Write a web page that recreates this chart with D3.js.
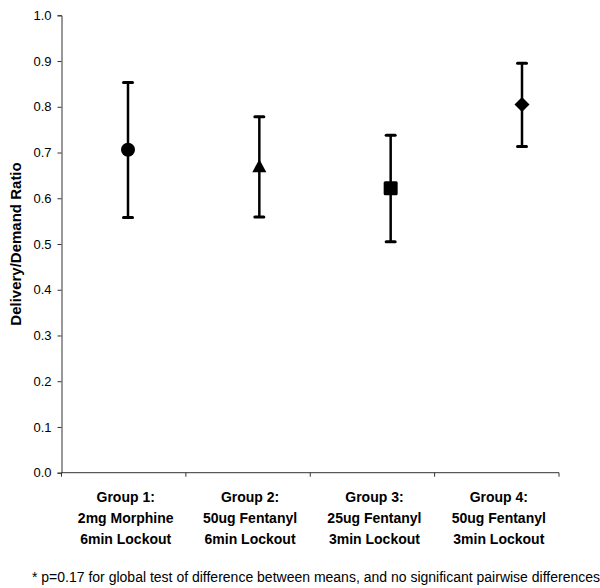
<!DOCTYPE html>
<html><head><meta charset="utf-8">
<script src="https://cdn.jsdelivr.net/npm/d3@7"></script>
<style>body{margin:0;background:#fff}svg{display:block}</style>
</head><body>
<script>
const categories = ["Group 1", "Group 2", "Group 3", "Group 4"];
const labelLines = [
  ["Group 1:", "2mg Morphine", "6min Lockout"],
  ["Group 2:", "50ug Fentanyl", "6min Lockout"],
  ["Group 3:", "25ug Fentanyl", "3min Lockout"],
  ["Group 4:", "50ug Fentanyl", "3min Lockout"]
];
const means = [0.706, 0.668, 0.622, 0.805];
const lower = [0.558, 0.559, 0.505, 0.713];
const upper = [0.853, 0.778, 0.738, 0.895];
const markers = ["circle", "triangle", "square", "diamond"];
const yTicks = [0.0, 0.1, 0.2, 0.3, 0.4, 0.5, 0.6, 0.7, 0.8, 0.9, 1.0];
const footnote = "* p=0.17 for global test of difference between means, and no significant pairwise differences";

const W = 600, H = 588;
const svg = d3.select("body").append("svg").attr("width", W).attr("height", H);
const font = "Liberation Sans, Arial, sans-serif";

const y = d3.scaleLinear().domain([0, 1]).range([472.7, 15.3]);
const xBand = d3.scaleBand().domain(categories).range([61.5, 559]);
const xPt = d3.scalePoint().domain(categories).range([128, 522]);

// Y axis
const yAxis = d3.axisLeft(y).tickValues(yTicks).tickFormat(d3.format(".1f")).tickSize(4).tickPadding(6);
const gy = svg.append("g").attr("transform", "translate(61.5,0)").call(yAxis);
gy.select(".domain").attr("stroke", "#333").attr("stroke-width", 1);
gy.selectAll(".tick line").attr("stroke", "#333");
gy.selectAll(".tick text").attr("font-family", font).attr("font-size", 13).attr("fill", "#000");

// X axis
svg.append("line").attr("x1", xBand.range()[0]).attr("x2", xBand.range()[1])
  .attr("y1", y(0)).attr("y2", y(0)).attr("stroke", "#333").attr("stroke-width", 1);
const boundaries = categories.map(c => xBand(c)).concat([xBand.range()[1]]);
svg.selectAll(".xt").data(boundaries).join("line")
  .attr("x1", d => d).attr("x2", d => d)
  .attr("y1", y(0)).attr("y2", y(0) + 4).attr("stroke", "#333");

// Category labels
const lab = svg.selectAll(".cat").data(categories).join("text")
  .attr("font-family", font).attr("font-size", 14).attr("font-weight", "bold")
  .attr("text-anchor", "middle").attr("fill", "#000");
lab.each(function(c, i) {
  const t = d3.select(this);
  labelLines[i].forEach((s, j) => {
    t.append("tspan").attr("x", xBand(c) + xBand.bandwidth() / 2 + 2)
      .attr("y", 502 + j * 21).text(s);
  });
});

// Y label
svg.append("text")
  .attr("transform", `translate(21,${(y(0) + y(1)) / 2}) rotate(-90)`)
  .attr("text-anchor", "middle")
  .attr("font-family", font).attr("font-size", 15).attr("font-weight", "bold")
  .text("Delivery/Demand Ratio");

// Error bars
const g = svg.append("g");
categories.forEach((c, i) => {
  const cx = xPt(c);
  g.append("line").attr("x1", cx).attr("x2", cx).attr("y1", y(upper[i])).attr("y2", y(lower[i]))
    .attr("stroke", "#000").attr("stroke-width", 2.5);
  [upper[i], lower[i]].forEach(v => {
    g.append("line").attr("x1", cx - 4.5).attr("x2", cx + 4.5).attr("y1", y(v)).attr("y2", y(v))
      .attr("stroke", "#000").attr("stroke-width", 3).attr("stroke-linecap", "round");
  });
  const m = markers[i];
  const cy = y(means[i]);
  if (m === "circle") {
    g.append("circle").attr("cx", cx).attr("cy", cy).attr("r", 7).attr("fill", "#000");
  } else if (m === "triangle") {
    g.append("path").attr("d", `M${cx},${cy - 8}L${cx + 7},${cy + 5}L${cx - 7},${cy + 5}Z`).attr("fill", "#000");
  } else if (m === "square") {
    g.append("rect").attr("x", cx - 7).attr("y", cy - 7).attr("width", 14).attr("height", 14).attr("rx", 1.5).attr("fill", "#000");
  } else {
    g.append("path").attr("d", `M${cx},${cy - 7.5}L${cx + 7.5},${cy}L${cx},${cy + 7.5}L${cx - 7.5},${cy}Z`).attr("fill", "#000");
  }
});

// Footnote
svg.append("text").attr("x", 32).attr("y", 582)
  .attr("font-family", font).attr("font-size", 14).attr("fill", "#000")
  .text(footnote);
</script>
</body></html>
